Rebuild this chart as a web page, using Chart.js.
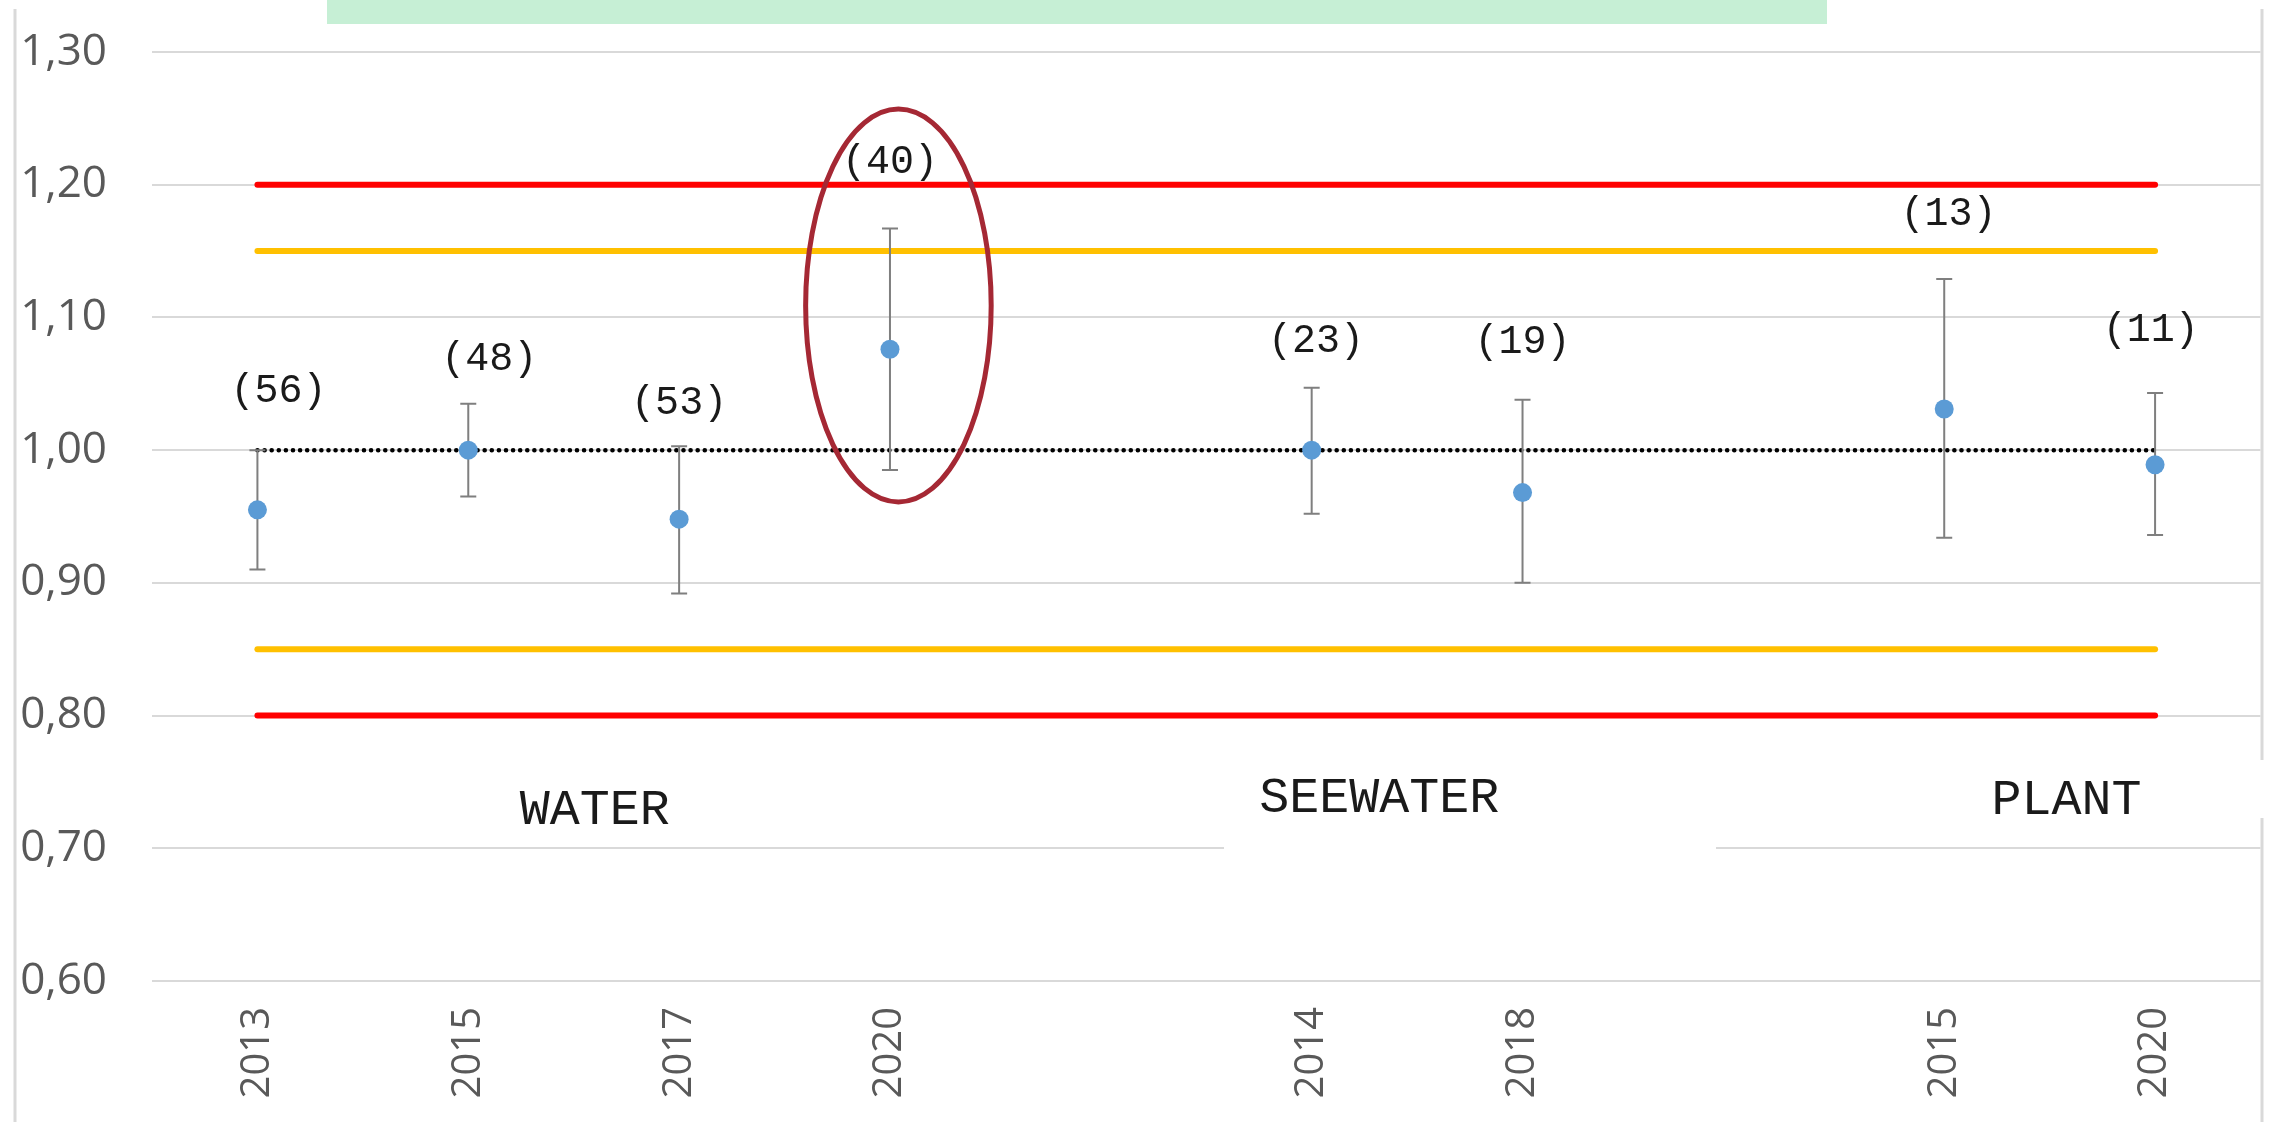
<!DOCTYPE html>
<html>
<head>
<meta charset="utf-8">
<script src="https://cdn.jsdelivr.net/npm/chart.js@4.4.1/dist/chart.umd.min.js"></script>
<style>
  body { margin: 0; background: #fff; }
  #wrap { position: relative; width: 2270px; height: 1122px; }
  #note { position: absolute; left: 327px; top: 0; width: 1500px; height: 24px; background: #c6efd5; }
</style>
</head>
<body>
<div id="wrap">
  <canvas id="myChart"></canvas>
  <div id="note"></div>
</div>
<script>
// Categorias (los huecos vacios separan los grupos)
const years = ['2013', '2015', '2017', '2020', '', '2014', '2018', '', '2015', '2020'];
const means = [0.955, 1.000, 0.948, 1.076, null, 1.000, 0.968, null, 1.031, 0.989];
const lowErr = [0.910, 0.965, 0.892, 0.985, null, 0.952, 0.900, null, 0.934, 0.936];
const highErr = [1.000, 1.035, 1.003, 1.167, null, 1.047, 1.038, null, 1.129, 1.043];
const counts = ['(56)', '(48)', '(53)', '(40)', null, '(23)', '(19)', null, '(13)', '(11)'];
const countY = [1.044, 1.068, 1.035, 1.217, null, 1.082, 1.081, null, 1.178, 1.090];
const countShift = [0.1, 0.1, 0, 0, 0, 0.02, 0, 0, 0.02, -0.02];
const groups = ['WATER', 'SEEWATER', 'PLANT'];
const groupX = [1.6, 5.32, 8.58];
const groupY = [0.728, 0.737, 0.736];
const redLimits = [0.80, 1.20];
const orangeLimits = [0.85, 1.15];
const target = 1.00;
// elipse que marca el punto 2020 de WATER
const highlight = { x: 3.04, y: 1.109, halfX: 0.44, halfY: 0.148 };

const extras = {
    id: 'extras',
    beforeDatasetsDraw(chart) {
        const ctx = chart.ctx;
        const x = chart.scales.x, y = chart.scales.y;
        const x0 = x.getPixelForValue(0), x1 = x.getPixelForValue(years.length - 1);
        ctx.save();

        // cajas blancas de los textos
        ctx.fillStyle = '#fff';
        ctx.fillRect(1224, 768, 492, 95);
        ctx.fillRect(1960, 760, 320, 58);

        ctx.lineCap = 'round';
        ctx.lineWidth = 6;
        ctx.strokeStyle = '#ff0000';
        redLimits.forEach(v => {
            ctx.beginPath();
            ctx.moveTo(x0, y.getPixelForValue(v));
            ctx.lineTo(x1, y.getPixelForValue(v));
            ctx.stroke();
        });
        ctx.strokeStyle = '#ffc000';
        orangeLimits.forEach(v => {
            ctx.beginPath();
            ctx.moveTo(x0, y.getPixelForValue(v));
            ctx.lineTo(x1, y.getPixelForValue(v));
            ctx.stroke();
        });

        // linea punteada en 1,00
        ctx.strokeStyle = '#000';
        ctx.lineWidth = 4.5;
        ctx.setLineDash([0.1, 7]);
        ctx.beginPath();
        ctx.moveTo(x0, y.getPixelForValue(target));
        ctx.lineTo(x1, y.getPixelForValue(target));
        ctx.stroke();
        ctx.setLineDash([]);

        // barras de error
        ctx.lineCap = 'butt';
        ctx.strokeStyle = '#7f7f7f';
        ctx.lineWidth = 2;
        means.forEach((m, i) => {
            if (m === null) return;
            const px = x.getPixelForValue(i);
            const top = y.getPixelForValue(highErr[i]);
            const bot = y.getPixelForValue(lowErr[i]);
            ctx.beginPath();
            ctx.moveTo(px, top); ctx.lineTo(px, bot);
            ctx.moveTo(px - 8, top); ctx.lineTo(px + 8, top);
            ctx.moveTo(px - 8, bot); ctx.lineTo(px + 8, bot);
            ctx.stroke();
        });
        ctx.restore();
    },
    afterDatasetsDraw(chart) {
        const ctx = chart.ctx;
        const x = chart.scales.x, y = chart.scales.y;
        ctx.save();
        ctx.textAlign = 'center';
        ctx.textBaseline = 'middle';
        ctx.fillStyle = '#1a1a1a';
        ctx.font = '40px "Liberation Mono"';
        counts.forEach((c, i) => {
            if (c === null) return;
            ctx.fillText(c, x.getPixelForValue(i + countShift[i]), y.getPixelForValue(countY[i]));
        });
        ctx.font = '50px "Liberation Mono"';
        groups.forEach((g, i) => {
            ctx.fillText(g, x.getPixelForValue(groupX[i]), y.getPixelForValue(groupY[i]));
        });

        ctx.strokeStyle = '#a52834';
        ctx.lineWidth = 5;
        const cx = x.getPixelForValue(highlight.x);
        const cy = y.getPixelForValue(highlight.y);
        const rx = x.getPixelForValue(highlight.x + highlight.halfX) - cx;
        const ry = y.getPixelForValue(highlight.y - highlight.halfY) - cy;
        ctx.beginPath();
        ctx.ellipse(cx, cy, rx, ry, 0, 0, Math.PI * 2);
        ctx.stroke();
        ctx.restore();
    },
    afterDraw(chart) {
        // marco del grafico
        const ctx = chart.ctx;
        ctx.save();
        ctx.strokeStyle = '#d9d9d9';
        ctx.lineWidth = 3;
        ctx.beginPath();
        ctx.moveTo(15, 9); ctx.lineTo(15, 1122);
        ctx.moveTo(2262, 9); ctx.lineTo(2262, 760);
        ctx.moveTo(2262, 818); ctx.lineTo(2262, 1122);
        ctx.stroke();
        ctx.restore();
    }
};

let ctx = document.getElementById('myChart');

let myChart = new Chart(ctx, {
    type: 'line',
    data: {
        labels: years,
        datasets: [{
            data: means,
            showLine: false,
            pointRadius: 9.5,
            pointHoverRadius: 9.5,
            pointBackgroundColor: '#5b9bd5',
            pointBorderWidth: 0
        }]
    },
    options: {
        responsive: true,
        maintainAspectRatio: false,
        animation: false,
        layout: { padding: { top: 52, right: 9, left: 0, bottom: 0 } },
        plugins: {
            legend: { display: false },
            tooltip: { enabled: false }
        },
        scales: {
            x: {
                offset: true,
                grid: { display: false },
                border: { display: false },
                ticks: {
                    autoSkip: false,
                    minRotation: 90,
                    maxRotation: 90,
                    padding: 18,
                    color: '#595959',
                    font: { family: 'Open Sans', size: 40 }
                },
                afterFit: s => { s.height = 141; }
            },
            y: {
                min: 0.6,
                max: 1.3,
                grid: { color: '#d9d9d9', lineWidth: 2, drawTicks: false },
                border: { display: false },
                ticks: {
                    stepSize: 0.1,
                    padding: 45,
                    color: '#595959',
                    font: { family: 'Open Sans', size: 44 },
                    callback: v => v.toFixed(2).replace('.', ',')
                },
                afterFit: s => {
                    s.width = 152;
                    s.paddingTop = 0;
                    s.paddingBottom = 0;
                }
            }
        }
    },
    plugins: [extras]
});
</script>
</body>
</html>
